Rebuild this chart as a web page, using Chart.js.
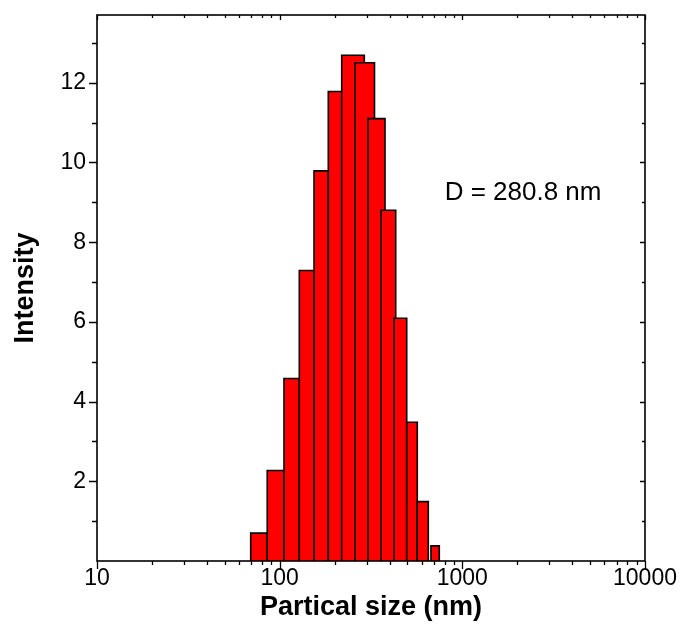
<!DOCTYPE html>
<html>
<head>
<meta charset="utf-8">
<title>Particle size distribution</title>
<script src="https://cdn.jsdelivr.net/npm/chart.js@4.4.1/dist/chart.umd.min.js"></script>
<style>
    body { margin: 0; background: #fff; }
    #wrap { width: 684px; height: 634px; }
</style>
</head>
<body>
<div id="wrap"><canvas id="sizeChart" width="684" height="634"></canvas></div>
<script>
// Histogram bins (nm) and their intensities
const binLow    = [69.4, 85.5, 105.6, 128.1, 154.2, 184.6, 218.6, 258.5, 304.6, 358.6, 422.6, 496.0, 566.7, 673.4];
const binHigh   = [85.5, 105.6, 128.1, 154.2, 184.6, 218.6, 290.6, 330.5, 377.3, 431.8, 496.0, 566.7, 651.1, 747.9];
const intensity = [0.70, 2.27, 4.58, 7.29, 9.79, 11.78, 12.69, 12.50, 11.10, 8.80, 6.09, 3.48, 1.49, 0.38];

// Axis ranges and labelled ticks
const xMin = 10, xMax = 10000;
const yMin = 0, yMax = 13.7;
const xLabels = [10, 100, 1000, 10000];
const yLabels = [2, 4, 6, 8, 10, 12];

const annotationText = 'D = 280.8 nm';
const FONT = '"Liberation Sans", Arial, sans-serif';

// Each bar is a closed outline filled down to zero, so it can have its own width
function buildBarDatasets() {
    return intensity.map((h, i) => ({
        data: [
            { x: binLow[i], y: 0 },
            { x: binLow[i], y: h },
            { x: binHigh[i], y: h },
            { x: binHigh[i], y: 0 }
        ],
        fill: 'origin',
        backgroundColor: '#ff0000',
        borderColor: '#000000',
        borderWidth: 1.6,
        borderJoinStyle: 'miter',
        pointRadius: 0,
        tension: 0,
        order: intensity.length - i   // later bars sit on top
    }));
}

// Box frame plus major/minor tick marks
const frameTicks = {
    id: 'frameTicks',
    afterDatasetsDraw(chart) {
        const { ctx, chartArea: a, scales: { x, y } } = chart;
        ctx.save();
        ctx.strokeStyle = '#000';
        ctx.lineWidth = 1.6;
        ctx.strokeRect(a.left, a.top, a.right - a.left, a.bottom - a.top);

        ctx.lineWidth = 1.3;
        ctx.beginPath();
        for (let dec = xMin; dec <= xMax; dec *= 10) {
            for (let m = 1; m <= 9; m++) {
                const v = dec * m;
                if (v > xMax) break;
                const px = Math.round(x.getPixelForValue(v)) + 0.5;
                const major = m === 1;
                ctx.moveTo(px, a.bottom);
                ctx.lineTo(px, a.bottom + (major ? 8 : 4));
                ctx.moveTo(px, a.top);
                ctx.lineTo(px, a.top + (major ? 5 : 3));
            }
        }
        for (let v = 1; v <= 13; v++) {
            const py = Math.round(y.getPixelForValue(v)) + 0.5;
            const major = v % 2 === 0;
            ctx.moveTo(a.left - (major ? 8 : 5), py);
            ctx.lineTo(a.left, py);
            ctx.moveTo(a.right, py);
            ctx.lineTo(a.right - (major ? 5 : 3), py);
        }
        ctx.stroke();

        // size annotation
        ctx.fillStyle = '#000';
        ctx.font = '26px ' + FONT;
        ctx.textAlign = 'left';
        ctx.textBaseline = 'middle';
        ctx.fillText(annotationText, x.getPixelForValue(800), y.getPixelForValue(9.25));
        ctx.restore();
    }
};

function initializeChart() {
    const ctx = document.getElementById('sizeChart');

    new Chart(ctx, {
        type: 'line',
        data: { datasets: buildBarDatasets() },
        options: {
            responsive: false,
            animation: false,
            layout: { padding: { left: 0, right: 39, top: 15, bottom: 0 } },
            plugins: {
                legend: { display: false },
                tooltip: { enabled: false }
            },
            scales: {
                x: {
                    type: 'logarithmic',
                    min: xMin,
                    max: xMax,
                    grid: { display: false, drawTicks: false },
                    border: { display: false },
                    ticks: {
                        autoSkip: false,
                        maxRotation: 0,
                        padding: 4,
                        color: '#000',
                        font: { family: FONT, size: 23 },
                        callback: v => xLabels.includes(v) ? String(v) : null
                    },
                    title: {
                        display: true,
                        text: 'Partical size (nm)',
                        color: '#000',
                        font: { family: FONT, size: 27, weight: 'bold' },
                        padding: { top: 0, bottom: 10 }
                    },
                    afterFit(scale) { scale.height = 73; }
                },
                y: {
                    min: yMin,
                    max: yMax,
                    grid: { display: false, drawTicks: false },
                    border: { display: false },
                    ticks: {
                        stepSize: 1,
                        padding: 11,
                        color: '#000',
                        font: { family: FONT, size: 23 },
                        callback: v => yLabels.includes(v) ? String(v) : null
                    },
                    title: {
                        display: true,
                        text: 'Intensity',
                        color: '#000',
                        font: { family: FONT, size: 27, weight: 'bold' },
                        padding: { top: 9, bottom: 0 }
                    },
                    afterFit(scale) {
                        scale.width = 97;
                        // no label overflow at the ends; the frame sits on the padding
                        scale.paddingTop = 0;
                        scale.paddingBottom = 0;
                    }
                }
            }
        },
        plugins: [frameTicks]
    });
}

document.addEventListener('DOMContentLoaded', initializeChart);
</script>
</body>
</html>
